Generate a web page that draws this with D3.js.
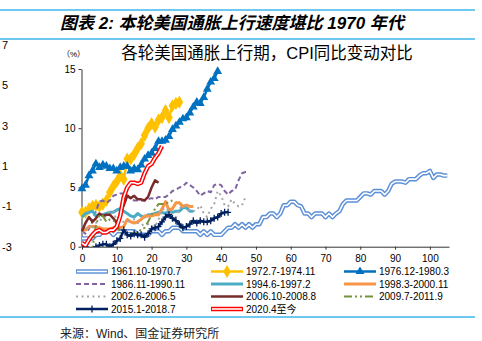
<!DOCTYPE html>
<html><head><meta charset="utf-8">
<script src="https://cdn.jsdelivr.net/npm/d3@7/dist/d3.min.js"></script>
<style>
body{margin:0;background:#fff;}
svg{display:block;font-family:"Liberation Sans",Arial,"Noto Sans CJK SC",sans-serif;}
</style></head>
<body><svg id="chart" width="482" height="341"></svg>
<script>
// CPI yoy (%), month index from start of each episode
const s1961 = [0.7,0.7,0.7,
  0.7,1.0,1.0,1.3,1.3,1.3,1.0,1.3,1.3,1.3,1.3,1.3,
  1.3,1.0,1.0,1.0,1.0,1.3,1.3,1.3,1.0,1.3,1.3,1.6,
  1.6,1.6,1.3,1.3,1.3,1.3,1.3,1.0,1.3,1.0,1.3,1.0,
  1.0,1.0,1.3,1.6,1.6,1.9,1.6,1.9,1.6,1.9,1.6,1.9,
  1.9,2.5,2.5,2.8,2.8,2.5,2.8,3.5,3.5,3.8,3.8,3.5,
  3.4,2.8,2.8,2.5,2.8,2.8,2.8,2.5,2.8,2.5,2.8,3.0,
  3.6,3.9,3.9,3.9,3.9,4.2,4.5,4.5,4.4,4.7,4.7,4.7,
  4.4,4.7,5.3,5.5,5.5,5.5,5.4,5.7,5.7,5.7,6.0,6.2,
  6.2,6.4,5.8,6.1,6.1,6.0,6.0];
const s1972 = [2.9,2.9,3.2,3.4,3.5,3.4,3.6,3.9,4.6,5.1,5.5,6.0,5.7,7.4,7.4,7.8,8.3,8.7,9.4,10.0,10.4,10.1,10.7,10.9,11.5,10.9,11.9,12.1,12.2];
const s1976 = [4.9,5.2,6.0,6.4,7.0,6.7,6.9,6.8,6.6,6.6,6.4,6.7,6.8,6.8,6.4,6.6,6.5,6.9,7.4,7.7,7.9,8.3,8.9,8.9,9.0,9.3,9.9,10.2,10.5,10.8,10.9,11.3,11.8,12.2,12.1,12.6,13.3,13.9,14.2,14.8];
const s1986 = [1.3,1.1,1.5,2.1,3.0,3.8,3.9,3.7,3.9,4.3,4.4,4.5,4.5,4.4,4.0,3.9,3.9,3.9,3.9,4.0,4.1,4.0,4.2,4.2,4.2,4.4,4.7,4.8,5.0,5.1,5.4,5.2,5.0,4.7,4.3,4.5,4.7,4.6,5.2,5.3,5.2,4.7,4.4,4.7,4.8,5.6,6.2,6.3,6.3];
const s1994 = [2.5,2.8,2.9,3.0,2.6,2.7,2.7,2.8,2.9,2.9,3.1,3.2,3.0,2.8,2.6,2.5,2.8,2.6,2.5,2.7,2.7,2.8,2.9,2.9,2.8,3.0,2.9,3.0,3.0,3.3,3.3,3.0,3.0];
const s1998 = [1.4,1.4,1.7,1.7,1.7,1.6,1.5,1.5,1.5,1.6,1.7,1.6,1.7,2.3,2.1,2.0,2.1,2.3,2.6,2.6,2.6,2.7,2.7,3.2,3.8,3.1,3.2,3.7,3.7,3.4,3.5,3.4,3.4];
const s2002 = [1.1,1.5,1.8,1.5,2.0,2.2,2.4,2.6,3.0,3.0,2.2,2.1,2.1,2.1,2.2,2.3,2.0,1.8,1.9,1.9,1.7,1.7,2.3,3.1,3.3,3.0,2.7,2.5,3.2,3.5,3.3,3.0,3.0,3.1,3.5,2.8,2.5,3.2,3.6,4.7,4.3,3.5,3.4,4.0,3.6,3.4,3.5,4.2];
const s2006 = [1.3,2.0,2.5,2.1,2.4,2.8,2.6,2.7,2.7,2.4,2.0,2.8,3.5,4.3,4.1,4.3,4.0,4.0,3.9,4.2,5.0,5.6,5.4];
const s2009 = [-2.1,-1.5,-1.3,-0.2,1.8,2.7,2.6,2.1,2.3,2.2,2.0,1.1,1.2,1.1,1.1,1.2,1.1,1.5,1.6,2.1,2.7,3.2,3.6,3.6,3.6,3.8,3.9];
const s2015 = [-0.1,0.0,-0.1,-0.2,0.0,0.1,0.2,0.2,0.0,0.2,0.5,0.7,1.4,1.0,0.9,1.1,1.0,1.0,0.8,1.1,1.5,1.6,1.7,2.1,2.5,2.7,2.4,2.2,1.9,1.6,1.7,1.9,2.2,2.0,2.2,2.1,2.1,2.2,2.4,2.5,2.8,2.9,2.9];
const s2020 = [0.3,0.1,0.6,1.0,1.3,1.4,1.2,1.2,1.4,1.4,1.7,2.6,4.2,5.0,5.4,5.4,5.3,5.4,6.2,6.8,7.0,7.5,7.9,8.5];

const seriesNames = ['1961.10-1970.7','1972.7-1974.11','1976.12-1980.3','1986.11-1990.11','1994.6-1997.2','1998.3-2000.11',
  '2002.6-2006.5','2006.10-2008.8','2009.7-2011.9','2015.1-2018.7','2020.4至今'];
const seriesValues = [s1961,s1972,s1976,s1986,s1994,s1998,s2002,s2006,s2009,s2015,s2020];
const xTicks = [0,10,20,30,40,50,60,70,80,90,100];
const yTicks = [0,5,10,15];
const strayTicks = [7,5,3,1,-1,-3];

const styles = [
  {color:'#5B8FD8', width:4.5, inner:'#fff'},
  {color:'#FFC000', width:2.5, marker:'diamond'},
  {color:'#0070C0', width:2.5, marker:'triangle'},
  {color:'#8064A2', width:2, dash:'5,3'},
  {color:'#4BACC6', width:3},
  {color:'#F79646', width:3},
  {color:'#A5A5A5', width:2, dash:'2,3.5'},
  {color:'#772C2A', width:2.5},
  {color:'#77933C', width:2, dash:'8,3,2,3,2,3'},
  {color:'#002060', width:2.5, marker:'plus'},
  {color:'#FF0000', width:4.5, inner:'#fff'}
];

const svg = d3.select('#chart');
const blue = '#3FB6EA';

// header / footer rules
[10, 39, 317].forEach(y => svg.append('line').attr('x1', 0).attr('x2', 475)
  .attr('y1', y).attr('y2', y).attr('stroke', blue).attr('stroke-width', 1.6));

svg.append('text').attr('x', 60).attr('y', 29)
  .attr('font-size', 17).attr('font-weight', 'bold').attr('font-style', 'italic')
  .text('图表 2: 本轮美国通胀上行速度堪比 1970 年代');

svg.append('text').attr('x', 60).attr('y', 338)
  .attr('font-size', 12).attr('fill', '#222')
  .text('来源：Wind、国金证券研究所');

// leftover axis labels at the left edge
const ys = d3.scaleLinear().domain([-3, 7]).range([246.7, 45]);
svg.append('g').selectAll('text').data(strayTicks).join('text')
  .attr('x', 2).attr('y', d => ys(d)).attr('dy', '0.35em')
  .attr('font-size', 11).text(d => d);

const x = d3.scaleLinear().domain([0, 105.5]).range([82, 449]);
const y = d3.scaleLinear().domain([0, 15]).range([246.7, 69]);

svg.append('text').attr('x', 267).attr('y', 59).attr('text-anchor', 'middle')
  .attr('font-size', 16.5).text('各轮美国通胀上行期，CPI同比变动对比');
svg.append('text').attr('x', 62).attr('y', 57).attr('font-size', 8).text('（%）');

const xAxis = svg.append('g').attr('transform', `translate(0,${y(0)})`)
  .call(d3.axisBottom(x).tickValues(xTicks).tickSize(3).tickSizeOuter(0).tickFormat(d3.format('d')));
const yAxis = svg.append('g').attr('transform', `translate(${x(0) - 0.5},0)`)
  .call(d3.axisLeft(y).tickValues(yTicks).tickSize(3).tickSizeOuter(0));
[xAxis, yAxis].forEach(a => {
  a.selectAll('text').attr('font-size', 10).attr('fill', '#000')
    .attr('font-family', '"Liberation Sans",Arial,sans-serif');
  a.select('.domain').attr('stroke', '#333');
  a.selectAll('.tick line').attr('stroke', '#333');
});
xAxis.selectAll('text').attr('dy', '0.9em');

svg.append('clipPath').attr('id', 'plot').append('rect')
  .attr('x', x(0) - 6).attr('y', y(15) - 8).attr('width', x(105.5) - x(0) + 12).attr('height', y(0) - y(15) + 8);

const line = d3.line().x((d, i) => x(i)).y(d => y(d));
const plot = svg.append('g').attr('clip-path', 'url(#plot)');
svg.append('clipPath').attr('id', 'above0').append('rect')
  .attr('x', 0).attr('y', 0).attr('width', 482).attr('height', y(0));

const triangle = d3.symbol(d3.symbolTriangle, 34)();
const diamond = d3.symbol(d3.symbolDiamond, 50)();
const plus = 'M-3,0H3M0,-3.5V3.5';

function drawMarker(g, kind, color, cx, cy) {
  const p = g.append('path').attr('transform', `translate(${cx},${cy})`);
  if (kind === 'triangle') p.attr('d', triangle).attr('fill', color);
  else if (kind === 'diamond') p.attr('d', diamond).attr('fill', color);
  else p.attr('d', plus).attr('stroke', color).attr('stroke-width', 1.3).attr('fill', 'none');
}

seriesValues.forEach((vals, k) => {
  const st = styles[k];
  const g = plot.append('g').attr('clip-path', 'url(#above0)');
  g.append('path').attr('d', line(vals)).attr('fill', 'none')
    .attr('stroke', st.color).attr('stroke-width', st.width)
    .attr('stroke-dasharray', st.dash || null).attr('stroke-linejoin', 'round');
  if (st.inner) g.append('path').attr('d', line(vals)).attr('fill', 'none')
    .attr('stroke', st.inner).attr('stroke-width', 1.6).attr('stroke-linejoin', 'round');
  if (st.marker) vals.forEach((v, i) => { if (v >= 0) drawMarker(g, st.marker, st.color, x(i), y(v)); });
});

// legend
const legX = [76, 211, 344];
const legY = [271.5, 284, 296.5, 309];
seriesNames.forEach((name, k) => {
  const st = styles[k];
  const lx = legX[k % 3], ly = legY[Math.floor(k / 3)];
  const g = svg.append('g');
  g.append('line').attr('x1', lx).attr('x2', lx + 32).attr('y1', ly).attr('y2', ly)
    .attr('stroke', st.color).attr('stroke-width', st.width).attr('stroke-dasharray', st.dash || null);
  if (st.inner) g.append('line').attr('x1', lx + 1).attr('x2', lx + 31).attr('y1', ly).attr('y2', ly)
    .attr('stroke', st.inner).attr('stroke-width', 1.6);
  if (st.marker) drawMarker(g, st.marker, st.color, lx + 16, ly);
  g.append('text').attr('x', lx + 35).attr('y', ly).attr('dy', '0.36em')
    .attr('font-size', 10).text(name);
});
</script></body></html>
